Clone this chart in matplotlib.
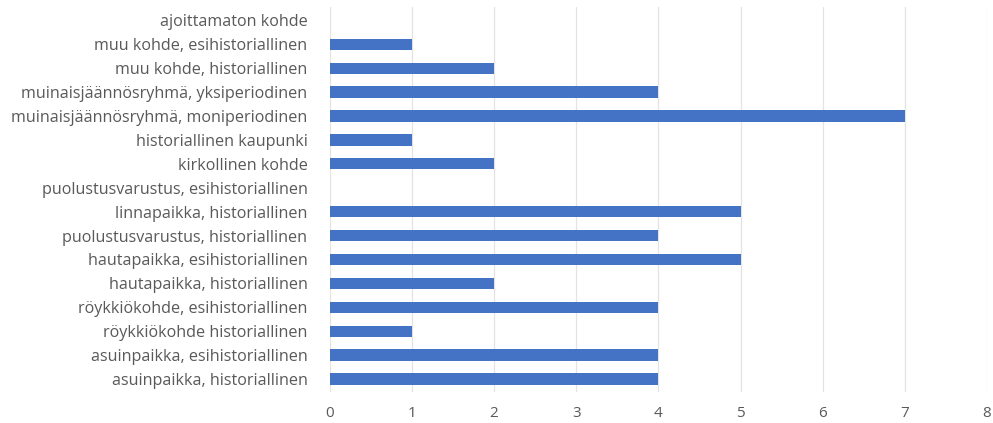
import matplotlib
matplotlib.use("Agg")
import matplotlib.pyplot as plt

categories = [
    "asuinpaikka, historiallinen",
    "asuinpaikka, esihistoriallinen",
    "röykkiökohde historiallinen",
    "röykkiökohde, esihistoriallinen",
    "hautapaikka, historiallinen",
    "hautapaikka, esihistoriallinen",
    "puolustusvarustus, historiallinen",
    "linnapaikka, historiallinen",
    "puolustusvarustus, esihistoriallinen",
    "kirkollinen kohde",
    "historiallinen kaupunki",
    "muinaisjäännösryhmä, moniperiodinen",
    "muinaisjäännösryhmä, yksiperiodinen",
    "muu kohde, historiallinen",
    "muu kohde, esihistoriallinen",
    "ajoittamaton kohde",
]
values = [4, 4, 1, 4, 2, 5, 4, 5, 0, 2, 1, 7, 4, 2, 1, 0]
x_ticks = [0, 1, 2, 3, 4, 5, 6, 7, 8]

plt.rcParams['font.family'] = ['Open Sans', 'DejaVu Sans']
fig = plt.figure(figsize=(9.93, 4.23), dpi=100)
ax = fig.add_axes([0.332, 0.073, 0.662, 0.91])
ax.barh(range(len(categories)), values, height=0.47, color="#4472C4", zorder=3)
ax.set_yticks(range(len(categories)))
ax.set_yticklabels(categories, fontsize=11.6, color="#595959")
ax.set_xticks(x_ticks)
ax.set_xticklabels([str(t) for t in x_ticks], fontsize=11, color="#595959")
ax.set_xlim(0, 8)
ax.set_ylim(-0.55, len(categories) - 0.45)
ax.grid(axis="x", color="#e3e3e3", linewidth=0.9, zorder=0)
for s in ax.spines.values():
    s.set_visible(False)
ax.tick_params(axis="both", length=0)
ax.tick_params(axis="y", pad=16)
ax.tick_params(axis="x", pad=10)
fig.savefig("out.png", dpi=100)
